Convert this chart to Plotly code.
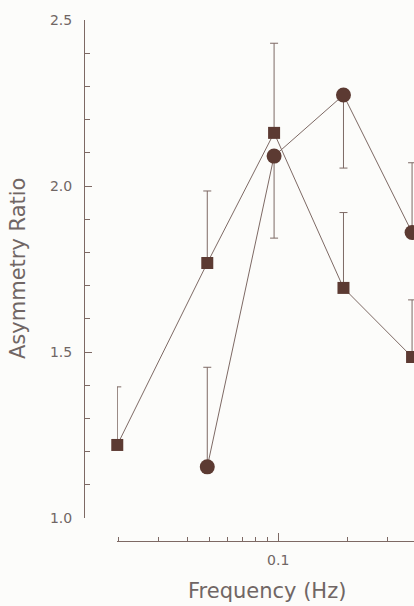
import plotly.graph_objects as go

# Data (frequency in Hz, asymmetry ratio)
sq_freq = [0.0198, 0.049, 0.096, 0.193, 0.385]
sq_ratio = [1.22, 1.768, 2.16, 1.693, 1.485]
sq_err_up = [0.175, 0.217, 0.27, 0.227, 0.172]
sq_err_down = [0, 0, 0, 0, 0]

ci_freq = [0.049, 0.096, 0.193, 0.385]
ci_ratio = [1.154, 2.09, 2.274, 1.86]
ci_err_up = [0.30, 0, 0, 0.21]
ci_err_down = [0, 0.247, 0.22, 0]

x_major_ticks = [0.1]
x_major_text = ["0.1"]
x_minor_ticks = [0.02, 0.03, 0.04, 0.05, 0.06, 0.07, 0.08, 0.09, 0.2, 0.3, 0.4]
y_ticks = [1.0, 1.5, 2.0, 2.5]
y_text = ["1.0", "1.5", "2.0", "2.5"]

ink = "rgb(92,58,50)"
line_c = "rgb(125,105,100)"
txt_c = "rgb(112,102,100)"
font_fam = "DejaVu Sans"

fig = go.Figure()
fig.add_trace(go.Scatter(
    x=sq_freq, y=sq_ratio, mode="lines+markers",
    line=dict(color=line_c, width=1),
    marker=dict(symbol="square", size=12, color=ink),
    error_y=dict(type="data", symmetric=False, array=sq_err_up, arrayminus=sq_err_down,
                 color=line_c, thickness=1, width=4),
    cliponaxis=False, showlegend=False))
fig.add_trace(go.Scatter(
    x=ci_freq, y=ci_ratio, mode="lines+markers",
    line=dict(color=line_c, width=1),
    marker=dict(symbol="circle", size=15, color=ink),
    error_y=dict(type="data", symmetric=False, array=ci_err_up, arrayminus=ci_err_down,
                 color=line_c, thickness=1, width=4),
    cliponaxis=False, showlegend=False))

W, H = 414, 606
ml, mr, mt, mb = 84, 0, 20, 65
pw = W - ml - mr
ph = H - mt - mb

fig.update_layout(
    width=W, height=H,
    margin=dict(l=ml, r=mr, t=mt, b=mb, pad=0),
    paper_bgcolor="#fcfcfa", plot_bgcolor="#fcfcfa",
    font=dict(family=font_fam, color=txt_c, size=14),
    xaxis=dict(
        type="log", domain=[(117 - ml) / pw, 1], anchor="free", position=0,
        range=[-1.7045, -0.4061],
        showline=True, linecolor=line_c, linewidth=1,
        showgrid=False, zeroline=False,
        tickmode="array", tickvals=x_major_ticks, ticktext=x_major_text,
        ticks="inside", ticklen=8, tickcolor=line_c, tickwidth=1,
        ticklabelstandoff=6,
        tickfont=dict(size=14, family=font_fam, color=txt_c),
        minor=dict(tickmode="array", tickvals=x_minor_ticks, ticks="inside",
                   ticklen=4, tickcolor=line_c, tickwidth=1, showgrid=False),
    ),
    yaxis=dict(
        domain=[(541 - 518) / ph, 1], anchor="free", position=0,
        range=[1.0, 2.5],
        showline=True, linecolor=line_c, linewidth=1,
        showgrid=False, zeroline=False,
        tickmode="array", tickvals=y_ticks, ticktext=y_text,
        ticks="inside", ticklen=7, tickcolor=line_c, tickwidth=1,
        ticklabelstandoff=9,
        tickfont=dict(size=14, family=font_fam, color=txt_c),
        minor=dict(dtick=0.1, ticks="inside", ticklen=5, tickcolor=line_c,
                   tickwidth=1, showgrid=False),
    ),
    annotations=[
        dict(text="Asymmetry Ratio", xref="paper", yref="paper",
             x=(18 - ml) / pw, y=(541 - 269) / ph, textangle=-90,
             showarrow=False, xanchor="center", yanchor="middle",
             font=dict(size=21, family=font_fam, color=txt_c)),
        dict(text="Frequency (Hz)", xref="paper", yref="paper",
             x=(267 - ml) / pw, y=(541 - 591) / ph,
             showarrow=False, xanchor="center", yanchor="middle",
             font=dict(size=21, family=font_fam, color=txt_c)),
    ],
)

fig.write_html("out.html",
               config={"displayModeBar": False},
               post_script="document.body.style.margin='0px';"
                           "document.body.style.overflow='hidden';")
